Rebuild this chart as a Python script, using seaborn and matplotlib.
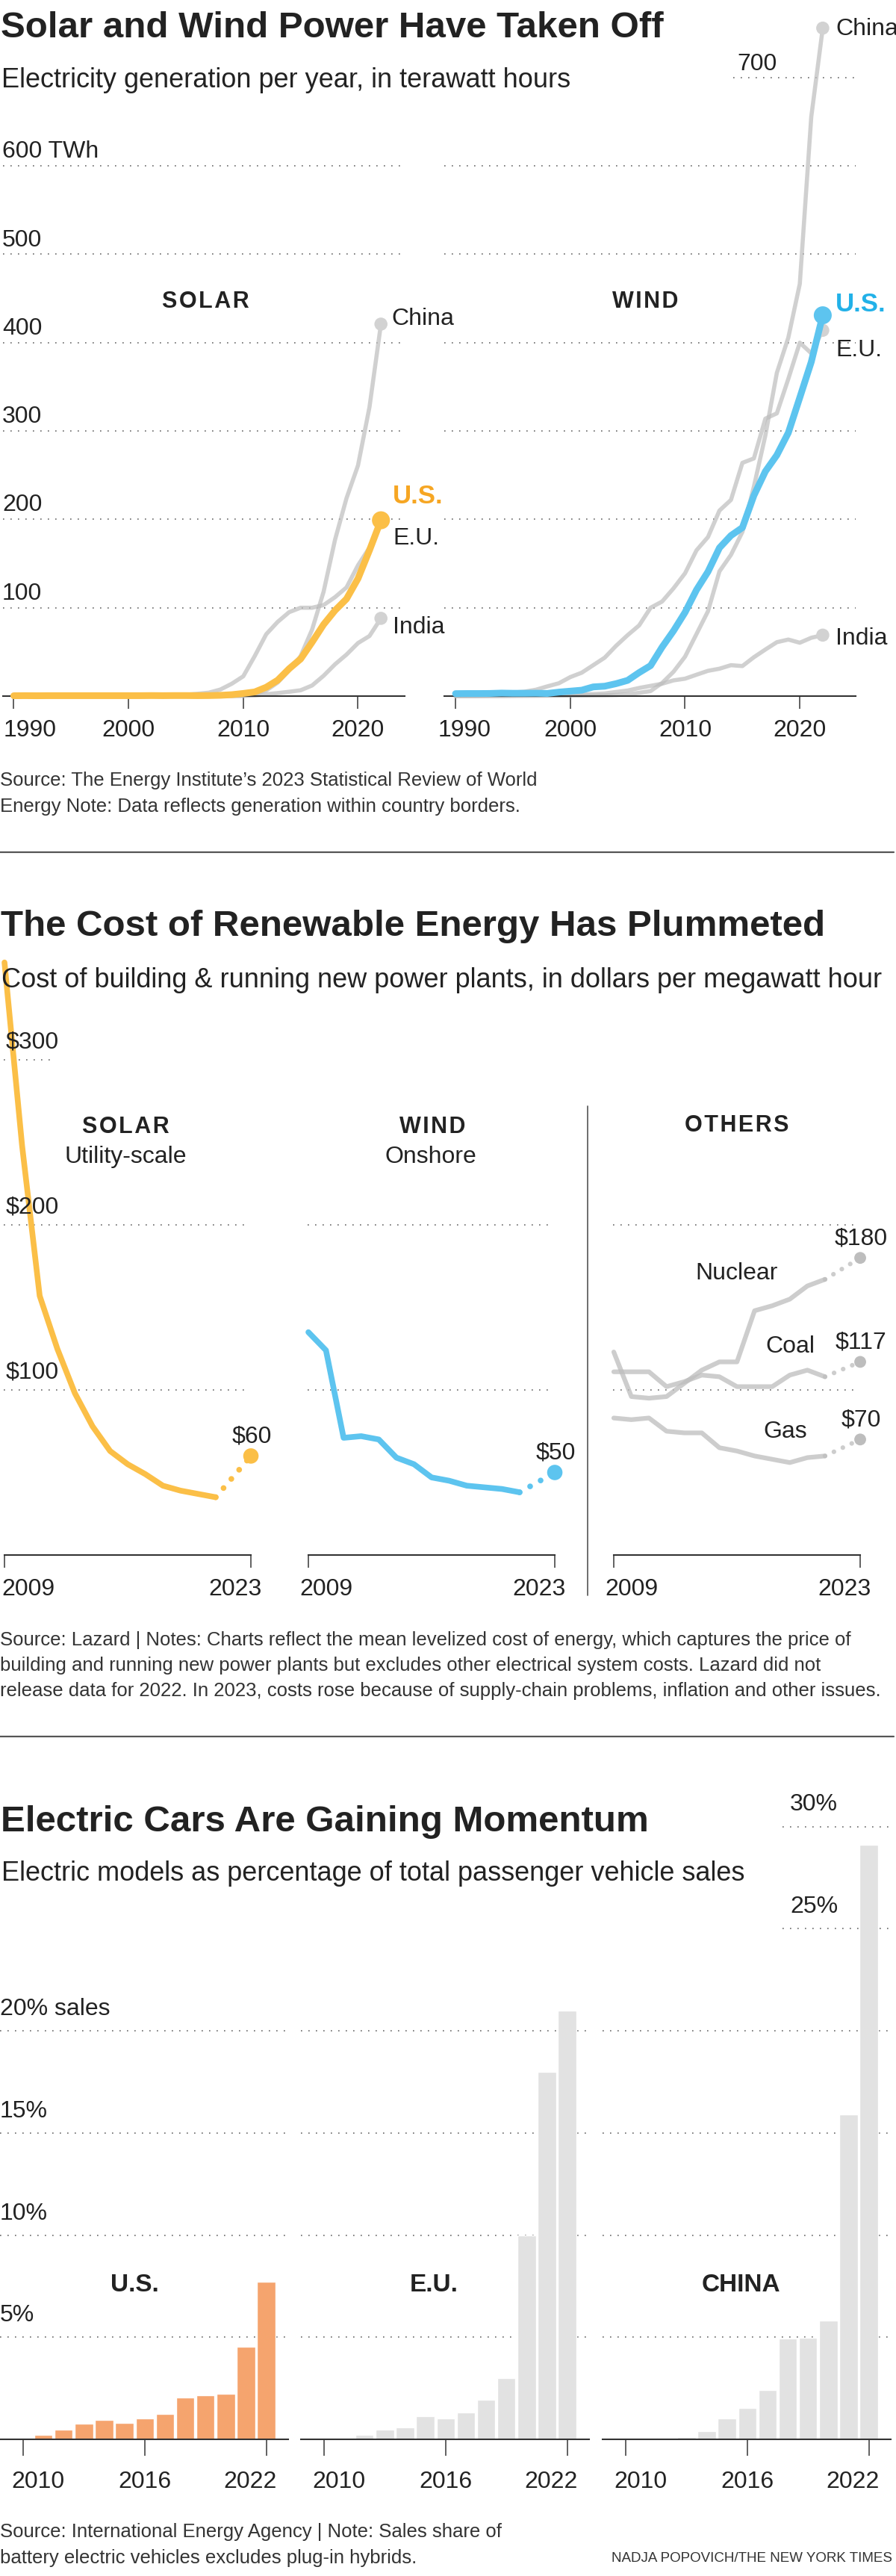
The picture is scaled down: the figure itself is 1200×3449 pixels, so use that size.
import matplotlib
matplotlib.use("Agg")
import numpy as np
import pandas as pd
import matplotlib.pyplot as plt
import seaborn as sns
from matplotlib.lines import Line2D

sns.set_style("white")
plt.rcParams["font.family"] = ["Liberation Sans", "DejaVu Sans"]

W, H = 1200, 3449
PT = 72 / 100  # points per pixel at dpi 100

TEXT = "#222222"
DARK = "#333333"
GRID = "#6a6a6a"
ORANGE = "#FBBF47"
ORANGE_TXT = "#F6A623"
BLUE = "#5DC4EF"
BLUE_TXT = "#22B1E8"
GRAY = "#BDBDBD"
GRAY_DOT = "#D2D2D2"
EV_ORANGE = "#F5A46E"
EV_GRAY = "#E2E2E2"

# ---- 1. electricity generation, TWh ----
gen_years = [1990, 1991, 1992, 1993, 1994, 1995, 1996, 1997, 1998, 1999,
             2000, 2001, 2002, 2003, 2004, 2005, 2006, 2007, 2008, 2009,
             2010, 2011, 2012, 2013, 2014, 2015, 2016, 2017, 2018, 2019,
             2020, 2021, 2022]
solar_us = [0.4, 0.5, 0.4, 0.5, 0.5, 0.5, 0.5, 0.5, 0.5, 0.5,
            0.5, 0.5, 0.6, 0.5, 0.6, 0.6, 0.5, 0.6, 0.9, 1.6,
            3.0, 4.7, 10.0, 18.0, 31.0, 42.0, 61.0, 81.0, 97.0, 110.0,
            133.0, 165.0, 199.0]
solar_china = [0.0, 0.0, 0.0, 0.0, 0.0, 0.0, 0.0, 0.0, 0.0, 0.0,
               0.0, 0.0, 0.0, 0.0, 0.0, 0.0, 0.0, 0.1, 0.2, 0.4,
               0.7, 2.6, 6.4, 15.3, 29.2, 45.2, 75.3, 118.0, 177.0, 224.0,
               261.0, 327.0, 421.0]
solar_eu = [0.0, 0.0, 0.0, 0.0, 0.0, 0.0, 0.0, 0.1, 0.1, 0.1,
            0.1, 0.2, 0.3, 0.5, 0.8, 1.5, 2.6, 3.9, 7.4, 14.0,
            22.4, 45.3, 70.0, 84.0, 95.0, 100.0, 100.0, 103.0, 112.0, 123.0,
            148.0, 168.0, 197.0]
solar_india = [0.0, 0.0, 0.0, 0.0, 0.0, 0.0, 0.0, 0.0, 0.0, 0.0,
               0.0, 0.0, 0.0, 0.0, 0.0, 0.0, 0.0, 0.0, 0.0, 0.0,
               0.1, 0.8, 2.1, 3.4, 4.9, 6.6, 12.0, 23.0, 36.0, 47.0,
               60.0, 68.0, 88.0]
wind_us = [2.8, 2.9, 2.9, 3.0, 3.4, 3.2, 3.2, 3.3, 3.0, 4.5,
           5.6, 6.7, 10.4, 11.2, 14.1, 17.8, 26.6, 34.5, 55.4, 73.9,
           94.7, 120.2, 140.8, 167.8, 181.7, 190.7, 227.0, 254.3, 272.7, 298.0,
           337.9, 378.2, 431.0]
wind_eu = [0.8, 1.2, 1.6, 2.3, 3.3, 4.0, 5.0, 7.2, 11.0, 14.5,
           21.5, 26.5, 35.0, 43.5, 57.0, 69.0, 80.0, 100.0, 107.0, 122.0,
           139.0, 165.0, 180.0, 210.0, 222.0, 264.0, 269.0, 314.0, 320.0, 359.0,
           400.0, 388.0, 414.0]
wind_china = [0.0, 0.0, 0.0, 0.1, 0.1, 0.1, 0.2, 0.3, 0.4, 0.5,
              0.6, 0.7, 0.9, 1.0, 1.3, 2.0, 3.7, 5.7, 14.8, 27.6,
              44.6, 70.3, 96.0, 141.2, 159.8, 185.8, 237.1, 295.0, 365.8, 405.7,
              466.5, 655.6, 756.0]
wind_india = [0.0, 0.0, 0.1, 0.2, 0.3, 0.6, 0.9, 1.0, 1.1, 1.3,
              1.6, 1.9, 2.3, 3.0, 4.7, 6.3, 9.2, 11.6, 14.0, 17.8,
              19.7, 24.2, 28.6, 31.0, 35.0, 34.0, 44.0, 52.7, 61.0, 64.0,
              60.4, 66.0, 69.0]
gen_ticks = [1990, 2000, 2010, 2020]
gen_grid = [100, 200, 300, 400, 500, 600]
gen_grid_labels = ["100", "200", "300", "400", "500", "600 TWh"]

# ---- 2. levelized cost, $ per MWh (no 2022 release) ----
cost_years = [2009, 2010, 2011, 2012, 2013, 2014, 2015, 2016, 2017, 2018, 2019, 2020, 2021]
cost_solar = [359, 248, 157, 125, 98, 78, 63, 55, 49, 42, 39, 37, 35]
cost_wind = [135, 124, 71, 72, 70, 59, 55, 47, 45, 42, 41, 40, 38]
cost_nuclear = [123, 96, 95, 96, 104, 112, 117, 117, 148, 151, 155, 163, 167]
cost_coal = [111, 111, 111, 102, 105, 109, 108, 102, 102, 102, 109, 112, 108]
cost_gas = [83, 82, 83, 75, 74, 74, 65, 63, 60, 58, 56, 59, 60]
cost_last_year = 2023
solar_2023, wind_2023 = 60, 50
nuclear_2023, coal_2023, gas_2023 = 180, 117, 70

# ---- 3. EV share of passenger car sales, % ----
ev_years = [2010, 2011, 2012, 2013, 2014, 2015, 2016, 2017, 2018, 2019, 2020, 2021, 2022]
ev_us = [0.02, 0.21, 0.46, 0.77, 0.94, 0.80, 1.04, 1.24, 2.04, 2.14, 2.22, 4.53, 7.71]
ev_eu = [0.02, 0.07, 0.22, 0.48, 0.59, 1.12, 1.01, 1.31, 1.93, 3.0, 10.0, 18.0, 21.0]
ev_china = [0.01, 0.04, 0.07, 0.11, 0.41, 1.01, 1.52, 2.43, 4.92, 4.99, 5.8, 15.9, 29.1]
ev_ticks = [2010, 2016, 2022]

fig = plt.figure(figsize=(W / 100, H / 100), dpi=100)


def px_axes(x0, x1, y_top, y_bot):
    ax = fig.add_axes([x0 / W, 1 - y_bot / H, (x1 - x0) / W, (y_bot - y_top) / H])
    ax.patch.set_visible(False)
    sns.despine(ax=ax, left=True, top=True, right=True, bottom=False)
    ax.spines["bottom"].set_color(DARK)
    ax.spines["bottom"].set_linewidth(1.5)
    ax.set_yticks([])
    return ax


def ftext(x, y, s, size=23, **kw):
    kw.setdefault("color", TEXT)
    kw.setdefault("va", "baseline")
    fig.text(x / W, 1 - y / H, s, fontsize=size, **kw)


def hline_fig(y, x0=0, x1=1197, color="#555555", lw=1.6):
    fig.add_artist(Line2D([x0 / W, x1 / W], [1 - y / H, 1 - y / H],
                          transform=fig.transFigure, color=color, lw=lw))


def year_labels(ax, ticks, below_px, first_dx, last_dx=None, last_ha="center"):
    for i, yr in enumerate(ticks):
        ha, dx = "center", 0
        if i == 0:
            ha, dx = "left", first_dx
        elif i == len(ticks) - 1 and last_dx is not None:
            ha, dx = last_ha, last_dx
        ax.annotate(str(yr), (yr, 0), xytext=(dx * PT, -below_px * PT),
                    textcoords="offset points", ha=ha, va="baseline",
                    fontsize=23, color=TEXT, annotation_clip=False)


def spaced(word):
    # a little letter spacing for the small-caps style panel headers
    return "\u200a".join(word)


# ================= Section 1: generation =================
GEN_ZERO, GEN_SCALE, GEN_TOP = 932, 1.183, 790


def gen_panel(x0, x1, xlim, grays, highlight, hcolor):
    ax = px_axes(x0, x1, GEN_ZERO - GEN_TOP * GEN_SCALE, GEN_ZERO)
    for v in gen_grid:
        ax.axhline(v, color=GRID, lw=1.2, ls=(0, (1, 5)), zorder=0.5)
    for vals in grays:
        sns.lineplot(x=gen_years, y=vals, ax=ax, color=GRAY, alpha=0.7, lw=4,
                     clip_on=False, solid_capstyle="round", zorder=2)
        sns.scatterplot(x=gen_years[-1:], y=vals[-1:], ax=ax, color=GRAY_DOT, s=160,
                        edgecolor="none", clip_on=False, zorder=2.5)
    sns.lineplot(x=gen_years, y=highlight, ax=ax, color=hcolor, lw=6.5,
                 clip_on=False, solid_capstyle="round", zorder=3)
    sns.scatterplot(x=gen_years[-1:], y=highlight[-1:], ax=ax, color=hcolor, s=300,
                    edgecolor="none", clip_on=False, zorder=3.5)
    ax.set_xlim(*xlim)
    ax.set_ylim(0, GEN_TOP)
    ax.set_xticks(gen_ticks)
    ax.tick_params(axis="x", bottom=True, direction="out", length=17 * PT,
                   width=1.5 * PT, color=DARK, labelbottom=False)
    ax.set_xlabel("")
    ax.set_ylabel("")
    return ax


ax_s = gen_panel(4, 542, (1989.06, 2024.07),
                 [solar_china, solar_eu, solar_india], solar_us, ORANGE)
for v, lbl in zip(gen_grid, gen_grid_labels):
    ax_s.annotate(lbl, (1989.06, v), xytext=(-1 * PT, 11 * PT), textcoords="offset points",
                  ha="left", va="baseline", fontsize=23, color=TEXT)
year_labels(ax_s, gen_ticks, 54, -14)

ax_w = gen_panel(595, 1146, (1989.02, 2024.87),
                 [wind_china, wind_eu, wind_india], wind_us, BLUE)
ax_w.hlines(700, 2014.2, 2024.87, color=GRID, lw=1.2, ls=(0, (1, 5)), zorder=0.5)
ax_w.annotate("700", (2014.2, 700), xytext=(5 * PT, 10 * PT), textcoords="offset points",
              ha="left", va="baseline", fontsize=23, color=TEXT)
year_labels(ax_w, gen_ticks, 54, -23)

ftext(1, 50, "Solar and Wind Power Have Taken Off", 35.5, weight="bold")
ftext(2, 117, "Electricity generation per year, in terawatt hours", 26)
ftext(275, 412, spaced("SOLAR"), 22, weight="bold", ha="center")
ftext(864, 412, spaced("WIND"), 22, weight="bold", ha="center")
ftext(524, 435, "China", 23)
ftext(526, 674, "U.S.", 25, weight="bold", color=ORANGE_TXT)
ftext(526, 729, "E.U.", 23)
ftext(526, 848, "India", 23)
ftext(1119, 47, "China", 23)
ftext(1119, 417, "U.S.", 25, weight="bold", color=BLUE_TXT)
ftext(1119, 477, "E.U.", 23)
ftext(1119, 863, "India", 23)
ftext(0, 1052, "Source: The Energy Institute\u2019s 2023 Statistical Review of World", 18.5, color=DARK)
ftext(0, 1087, "Energy Note: Data reflects generation within country borders.", 18.5, color=DARK)
hline_fig(1141)

# ================= Section 2: cost =================
COST_ZERO, COST_SCALE, COST_TOP = 2082, 2.21, 370
COST_XLIM = (2008.745, 2023.38)


def cost_panel(x0, series, grid_vals):
    ax = px_axes(x0, x0 + 345, COST_ZERO - COST_TOP * COST_SCALE, COST_ZERO)
    ax.hlines(grid_vals, 2008.95, 2022.85, color=GRID, lw=1.2, ls=(0, (1, 5)), zorder=0.5)
    for vals, last, color, lw, dot_s, alpha in series:
        sns.lineplot(x=cost_years, y=vals, ax=ax, color=color, lw=lw, alpha=alpha,
                     clip_on=False, solid_capstyle="round", solid_joinstyle="round", zorder=3)
        sns.lineplot(x=[cost_years[-1], cost_last_year], y=[vals[-1], last], ax=ax,
                     color=color, lw=lw, alpha=alpha, ls=(0, (0.01, 2.1)),
                     dash_capstyle="round", clip_on=False, zorder=3)
        sns.scatterplot(x=[cost_last_year], y=[last], ax=ax, color=color, s=dot_s,
                        edgecolor="none", clip_on=False, zorder=4)
        ax.annotate(f"${last}", (cost_last_year, last), xytext=(1 * PT, 18 * PT),
                    textcoords="offset points", ha="center", va="baseline",
                    fontsize=23, color=TEXT)
    ax.set_xlim(*COST_XLIM)
    ax.set_ylim(0, COST_TOP)
    ax.spines["bottom"].set_bounds(2009, 2023)
    ax.set_xticks([2009, 2023])
    ax.tick_params(axis="x", bottom=True, direction="out", length=17 * PT,
                   width=1.5 * PT, color=DARK, labelbottom=False)
    ax.set_xlabel("")
    ax.set_ylabel("")
    return ax


ax_cs = cost_panel(0, [(cost_solar, solar_2023, ORANGE, 5.5, 220, 1.0)], [200, 100])
ax_cs.hlines(300, 2008.95, 2011.7, color=GRID, lw=1.2, ls=(0, (1, 5)), zorder=0.5)
for v in [300, 200, 100]:
    ax_cs.annotate(f"${v}", (2009, v), xytext=(2 * PT, 16 * PT), textcoords="offset points",
                   ha="left", va="baseline", fontsize=23, color=TEXT)
year_labels(ax_cs, [2009, 2023], 54, -4, 15, "right")

ax_cw = cost_panel(407, [(cost_wind, wind_2023, BLUE, 5.5, 220, 1.0)], [200, 100])
year_labels(ax_cw, [2009, 2023], 54, -12, 15, "right")

ax_co = cost_panel(816, [(cost_nuclear, nuclear_2023, GRAY, 4.5, 130, 0.75),
                         (cost_coal, coal_2023, GRAY, 4.5, 130, 0.75),
                         (cost_gas, gas_2023, GRAY, 4.5, 130, 0.75)], [200, 100])
year_labels(ax_co, [2009, 2023], 54, -12, 15, "right")

ftext(1, 1253, "The Cost of Renewable Energy Has Plummeted", 35.5, weight="bold")
ftext(2, 1322, "Cost of building & running new power plants, in dollars per megawatt hour", 26)
ftext(168, 1517, spaced("SOLAR"), 22, weight="bold", ha="center")
ftext(168, 1557, "Utility-scale", 23, ha="center")
ftext(579, 1517, spaced("WIND"), 22, weight="bold", ha="center")
ftext(577, 1557, "Onshore", 23, ha="center")
ftext(987, 1515, spaced("OTHERS"), 22, weight="bold", ha="center")
ftext(987, 1713, "Nuclear", 23, ha="center")
ftext(1058, 1811, "Coal", 23, ha="center")
ftext(1052, 1925, "Gas", 23, ha="center")
fig.add_artist(Line2D([787 / W, 787 / W], [1 - 1481 / H, 1 - 2136 / H],
                      transform=fig.transFigure, color="#555555", lw=1.2))
ftext(0, 2203, "Source: Lazard | Notes: Charts reflect the mean levelized cost of energy, "
      "which captures the price of", 18.5, color=DARK)
ftext(0, 2237, "building and running new power plants but excludes other electrical system "
      "costs. Lazard did not", 18.5, color=DARK)
ftext(0, 2271, "release data for 2022. In 2023, costs rose because of supply-chain problems, "
      "inflation and other issues.", 18.5, color=DARK)
hline_fig(2325)

# ================= Section 3: electric cars =================
EV_ZERO, EV_SCALE, EV_TOP = 3266, 27.35, 31
EV_XLIM = (2008.86, 2023.08)


def ev_panel(x0, vals, color):
    ax = px_axes(x0, x0 + 386, EV_ZERO - EV_TOP * EV_SCALE, EV_ZERO)
    for v in [5, 10, 15, 20]:
        ax.axhline(v, color=GRID, lw=1.2, ls=(0, (1, 5)), zorder=0.5)
    sns.barplot(x=ev_years, y=vals, ax=ax, native_scale=True, width=0.9, color=color,
                saturation=1, errorbar=None, zorder=2)
    ax.set_xlim(*EV_XLIM)
    ax.set_ylim(0, EV_TOP)
    ax.set_xticks(ev_ticks)
    ax.tick_params(axis="x", bottom=True, direction="out", length=22 * PT,
                   width=1.5 * PT, color=DARK, labelbottom=False)
    ax.set_xlabel("")
    ax.set_ylabel("")
    year_labels(ax, ev_ticks, 65, -16, 14, "right")
    return ax


ax_us = ev_panel(0, ev_us, EV_ORANGE)
for v, lbl in zip([5, 10, 15, 20], ["5%", "10%", "15%", "20% sales"]):
    ax_us.annotate(lbl, (EV_XLIM[0], v), xytext=(0, 21 * PT), textcoords="offset points",
                   ha="left", va="baseline", fontsize=23, color=TEXT)
ax_eu = ev_panel(403, ev_eu, EV_GRAY)
ax_cn = ev_panel(807, ev_china, EV_GRAY)
ax_cn.hlines([25, 30], 2017.74, EV_XLIM[1], color=GRID, lw=1.2, ls=(0, (1, 5)), zorder=0.5)
for v in [25, 30]:
    ax_cn.annotate(f"{v}%", (2017.74, v), xytext=(10 * PT, 21 * PT), textcoords="offset points",
                   ha="left", va="baseline", fontsize=23, color=TEXT)

ftext(1, 2452, "Electric Cars Are Gaining Momentum", 35.5, weight="bold")
ftext(2, 2518, "Electric models as percentage of total passenger vehicle sales", 26)
ftext(180, 3068, "U.S.", 24, weight="bold", ha="center")
ftext(581, 3068, "E.U.", 24, weight="bold", ha="center")
ftext(992, 3068, "CHINA", 24, weight="bold", ha="center")
ftext(0, 3397, "Source: International Energy Agency | Note: Sales share of", 18.5, color=DARK)
ftext(0, 3432, "battery electric vehicles excludes plug-in hybrids.", 18.5, color=DARK)
ftext(1195, 3430, "NADJA POPOVICH/THE NEW YORK TIMES", 13.5, color=DARK, ha="right")

fig.savefig("out.png", dpi=100)
